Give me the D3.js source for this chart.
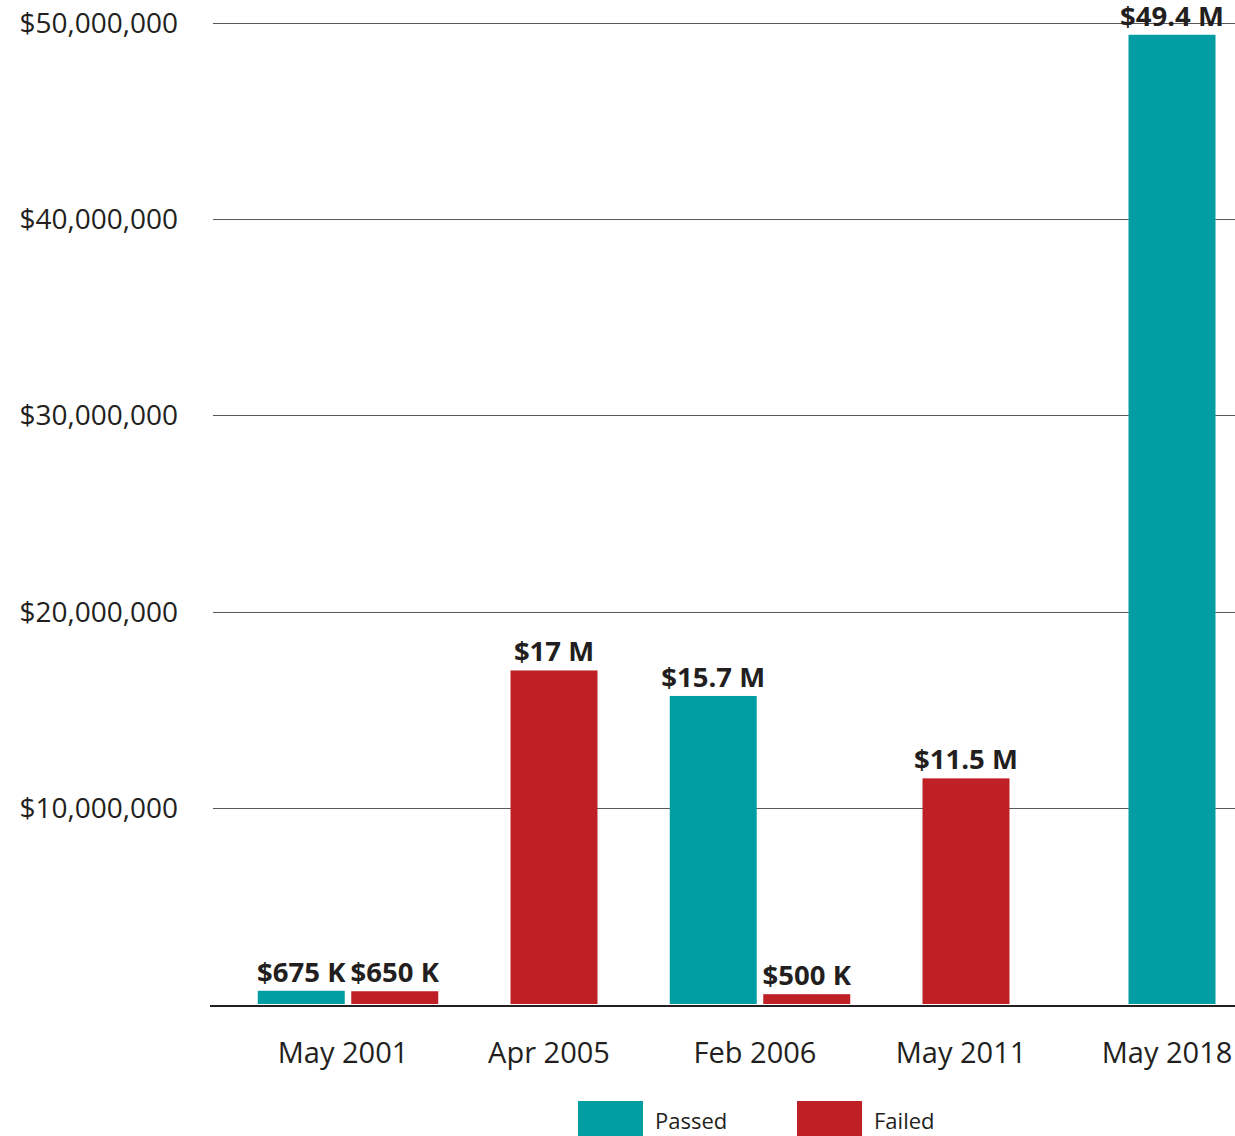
<!DOCTYPE html>
<html><head><meta charset="utf-8">
<script src="https://cdn.jsdelivr.net/npm/d3@7"></script>
<style>body{margin:0;background:#fff}svg{display:block;font-family:"Open Sans",sans-serif}</style>
</head><body>
<svg id="chart" width="1235" height="1136"></svg>
<script>
const categories = ["May 2001", "Apr 2005", "Feb 2006", "May 2011", "May 2018"];
const passedValues = [675000, null, 15700000, null, 49400000];
const failedValues = [650000, 17000000, 500000, 11500000, null];
const valueLabels = {
  passed: ["$675 K", null, "$15.7 M", null, "$49.4 M"],
  failed: ["$650 K", "$17 M", "$500 K", "$11.5 M", null]
};
const yTicks = [10000000, 20000000, 30000000, 40000000, 50000000];
const seriesNames = ["Passed", "Failed"];
const colors = {Passed: "#009ea3", Failed: "#bf2026"};

const svg = d3.select("#chart");
const y = d3.scaleLinear().domain([0, 50000000]).range([1004, 23]);
const x = d3.scalePoint().domain(categories).range([348, 1172]);
const barW = 87, gap = 6.5;

// gridlines
svg.append("g").selectAll("line").data(yTicks).join("line")
  .attr("x1", 213).attr("x2", 1235)
  .attr("y1", d => Math.round(y(d)) + 0.5).attr("y2", d => Math.round(y(d)) + 0.5)
  .attr("stroke", "#5a5a5a").attr("stroke-width", 1.2);

// y labels
const fmt = d3.format("$,");
svg.append("g").selectAll("text").data(yTicks).join("text")
  .attr("x", 178).attr("y", d => y(d)).attr("dy", "0.36em")
  .attr("text-anchor", "end").attr("font-size", 28).attr("fill", "#231f20")
  .text(d => fmt(d));

// bars
const bars = [];
categories.forEach((c, i) => {
  const p = passedValues[i], f = failedValues[i];
  const both = p != null && f != null;
  if (p != null) bars.push({c, v: p, s: "Passed", lab: valueLabels.passed[i], x: both ? x(c) - gap/2 - barW : x(c) - barW/2});
  if (f != null) bars.push({c, v: f, s: "Failed", lab: valueLabels.failed[i], x: both ? x(c) + gap/2 : x(c) - barW/2});
});
svg.append("g").selectAll("rect").data(bars).join("rect")
  .attr("x", d => d.x).attr("width", barW)
  .attr("y", d => y(d.v)).attr("height", d => y(0) - y(d.v))
  .attr("fill", d => colors[d.s]);

// value labels
svg.append("g").selectAll("text").data(bars).join("text")
  .attr("x", d => d.x + barW/2).attr("y", d => y(d.v) - 9)
  .attr("text-anchor", "middle").attr("font-size", 27.5).attr("font-weight", 700)
  .attr("fill", "#231f20").text(d => d.lab);

// baseline
svg.append("line").attr("x1", 210).attr("x2", 1235)
  .attr("y1", y(0) + 2).attr("y2", y(0) + 2)
  .attr("stroke", "#231f20").attr("stroke-width", 2.2);

// x labels
svg.append("g").selectAll("text").data(categories).join("text")
  .attr("x", d => x(d) - 5).attr("y", 1063)
  .attr("text-anchor", "middle").attr("font-size", 29).attr("fill", "#231f20")
  .text(d => d);

// legend
const legX = [578, 797];
const lg = svg.append("g").selectAll("g").data(seriesNames).join("g")
  .attr("transform", (d, i) => `translate(${legX[i]},1101)`);
lg.append("rect").attr("width", 65).attr("height", 40).attr("fill", d => colors[d]);
lg.append("text").attr("x", 77).attr("y", 28).attr("font-size", 22)
  .attr("fill", "#231f20").text(d => d);
</script>
</body></html>
